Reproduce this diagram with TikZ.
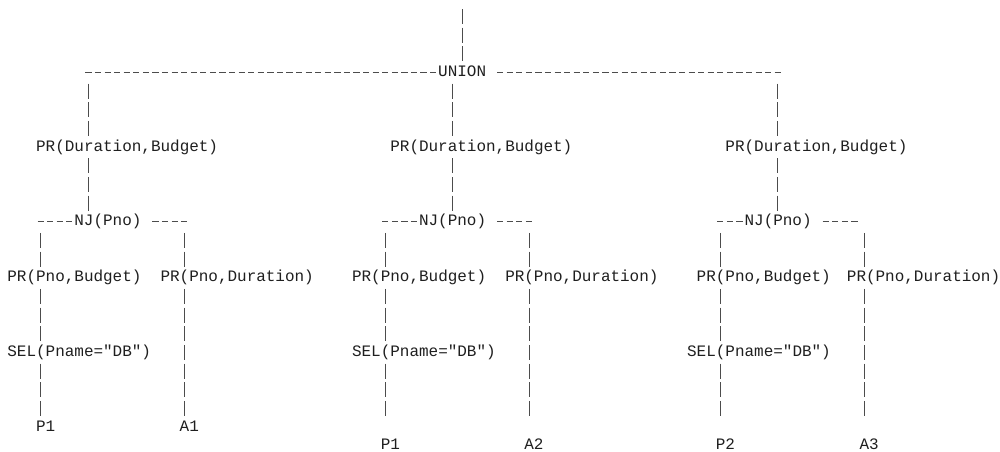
\documentclass[tikz,border=0pt]{standalone}
\usepackage{fontspec}
\setmonofont{Liberation Mono}
\begin{document}
\begin{tikzpicture}[x=9.574pt,y=-18.66pt,
  lbl/.style={inner sep=0pt,anchor=base west,yshift=-4.2pt,font=\ttfamily\fontsize{15.96pt}{18pt}\selectfont,text=black!88},
  vpipe/.style={draw=black!70,line width=0.9pt,dash pattern=on 15pt off 3.66pt},
  hdash/.style={draw=black!70,line width=0.9pt,dash pattern=on 6.2pt off 3.374pt}]
\useasboundingbox (-7.2pt,16.5pt) rectangle (992.8pt,-434.5pt);
\newcommand\vp[3]{\draw[vpipe] ([yshift=7.5pt]#1.5,#2) -- ([yshift=-7.5pt]#1.5,#3);}
\newcommand\hd[3]{\draw[hdash] ([xshift=1.6pt]#1,#3) -- (#2,#3);}
% nodes
\node[lbl] (union) at (45,3) {UNION};
\node[lbl] (prL) at (3,7) {PR(Duration,Budget)};
\node[lbl] (prM) at (40,7) {PR(Duration,Budget)};
\node[lbl] (prR) at (75,7) {PR(Duration,Budget)};
\node[lbl] (njL) at (7,11) {NJ(Pno)};
\node[lbl] (njM) at (43,11) {NJ(Pno)};
\node[lbl] (njR) at (77,11) {NJ(Pno)};
\node[lbl] (pbL) at (0,14) {PR(Pno,Budget)};
\node[lbl] (pbM) at (36,14) {PR(Pno,Budget)};
\node[lbl] (pbR) at (72,14) {PR(Pno,Budget)};
\node[lbl] (pdL) at (16,14) {PR(Pno,Duration)};
\node[lbl] (pdM) at (52,14) {PR(Pno,Duration)};
\node[lbl,xshift=-3pt] (pdR) at (88,14) {PR(Pno,Duration)};
\node[lbl] (selL) at (0,18) {SEL(Pname="DB")};
\node[lbl] (selM) at (36,18) {SEL(Pname="DB")};
\node[lbl] (selR) at (71,18) {SEL(Pname="DB")};
\node[lbl] (p1a) at (3,22) {P1};
\node[lbl] (a1) at (18,22) {A1};
\node[lbl] (p1b) at (39,23) {P1};
\node[lbl] (a2) at (54,23) {A2};
\node[lbl] (p2) at (74,23) {P2};
\node[lbl] (a3) at (89,23) {A3};
% vertical connectors
\vp{47}{0}{2}
\vp{8}{4}{6} \vp{46}{4}{6} \vp{80}{4}{6}
\vp{8}{8}{10} \vp{46}{8}{10} \vp{80}{8}{10}
\vp{3}{12}{13} \vp{18}{12}{13}
\vp{39}{12}{13} \vp{54}{12}{13}
\vp{74}{12}{13} \vp{89}{12}{13}
\vp{3}{15}{17} \vp{39}{15}{17} \vp{74}{15}{17}
\vp{3}{19}{21} \vp{39}{19}{21} \vp{74}{19}{21}
\vp{18}{15}{21} \vp{54}{15}{21} \vp{89}{15}{21}
% horizontal connectors
\hd{8}{45}{3} \hd{51}{81}{3}
\hd{3}{7}{11} \hd{15}{19}{11}
\hd{39}{43}{11} \hd{51}{55}{11}
\hd{74}{77}{11} \hd{85}{89}{11}
\end{tikzpicture}
\end{document}
